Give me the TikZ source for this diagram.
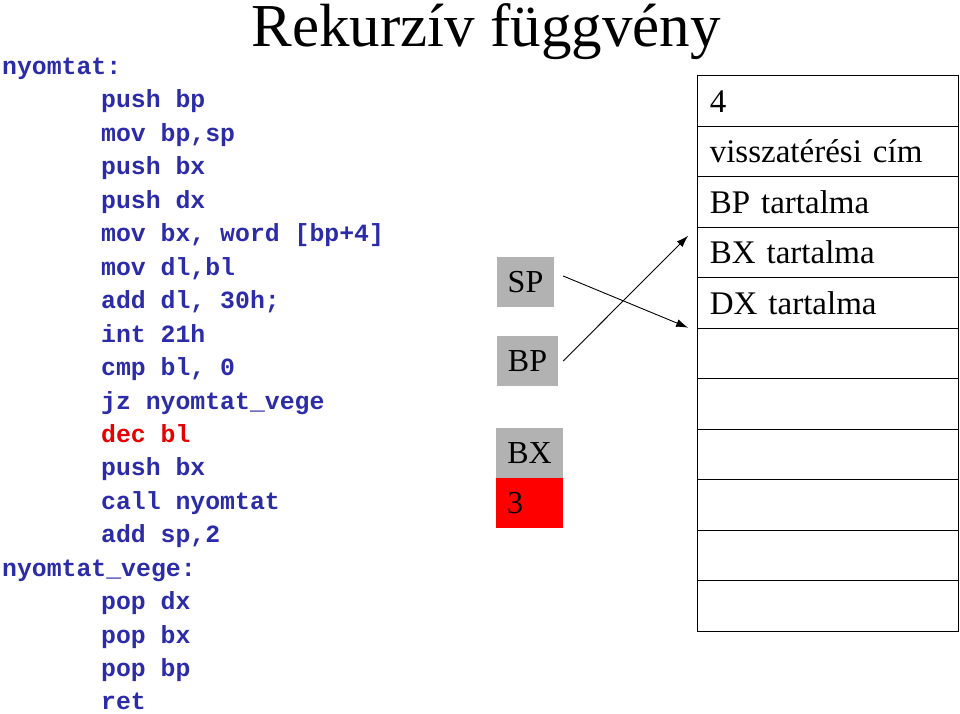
\documentclass[tikz,border=0pt]{standalone}
\usepackage{fontspec}
\setmainfont{Liberation Serif}
\setmonofont{Liberation Mono}
\usetikzlibrary{positioning}
\usetikzlibrary{matrix}
\usetikzlibrary{arrows.meta}

\definecolor{codeblue}{RGB}{44,44,168}
\definecolor{codered}{RGB}{230,0,0}
\definecolor{reggray}{RGB}{178,178,178}

\tikzset{
  code/.style={anchor=base west, inner sep=0pt, text=codeblue,
    font=\fontsize{24.8}{30}\selectfont\ttfamily\bfseries},
  reg/.style={fill=reggray, inner sep=0pt, minimum height=50pt,
    text height=21pt, text depth=0pt, font=\fontsize{32}{36}\selectfont},
  cell/.style={draw, line width=1.2pt, minimum height=50.5pt,
    text width=237pt, align=left, inner xsep=12pt, inner ysep=0pt,
    text height=22pt, text depth=0pt, font=\fontsize{33}{36}\selectfont},
  ptr/.style={-{Latex[length=12pt,width=8pt]}, line width=0.9pt},
}

\begin{document}
\begin{tikzpicture}[x=1pt, y=-1pt]
\useasboundingbox (0,0) rectangle (960,713);

\node[anchor=base, font=\fontsize{61}{70}\selectfont] (title) at (486,46) {Rekurzív függvény};

% code
\node[code] (lab1) at (2,74.5) {nyomtat:};
\node[code] (ins1) at (101,107.95) {push bp};
\node[code] (ins2) at (101,141.4) {mov bp,sp};
\node[code] (ins3) at (101,174.85) {push bx};
\node[code] (ins4) at (101,208.3) {push dx};
\node[code] (ins5) at (101,241.75) {mov bx, word [bp+4]};
\node[code] (ins6) at (101,275.2) {mov dl,bl};
\node[code] (ins7) at (101,308.65) {add dl, 30h;};
\node[code] (ins8) at (101,342.1) {int 21h};
\node[code] (ins9) at (101,375.55) {cmp bl, 0};
\node[code] (ins10) at (101,409) {jz nyomtat\_vege};
\node[code, text=codered] (ins11) at (101,442.45) {dec bl};
\node[code] (ins12) at (101,475.9) {push bx};
\node[code] (ins13) at (101,509.35) {call nyomtat};
\node[code] (ins14) at (101,542.8) {add sp,2};
\node[code] (lab2) at (2,576.25) {nyomtat\_vege:};
\node[code] (ins15) at (101,609.7) {pop dx};
\node[code] (ins16) at (101,643.15) {pop bx};
\node[code] (ins17) at (101,676.6) {pop bp};
\node[code] (ins18) at (101,709.5) {ret};

% registers
\node[reg, minimum width=57pt] (sp) at (525.5,282) {SP};
\node[reg, minimum width=61pt] (bp) at (527.5,361) {BP};
\node[reg, minimum width=67pt] (bx) at (529.5,453) {BX};
\node[reg, fill=red, text width=45pt, inner xsep=11pt, align=left,
  below=0pt of bx] (bxval) {3};

% stack
\matrix (stack) [matrix of nodes, nodes in empty cells, nodes={cell},
  row sep=-1.2pt, inner sep=0pt, anchor=north west] at (697,75)
{
4 \\
visszatérési cím \\
BP tartalma \\
BX tartalma \\
DX tartalma \\
\\
\\
\\
\\
\\
\\
};

\draw[ptr] ([shift={(9,-6)}]sp.east) -- ([xshift=-9pt]stack-6-1.north west);
\draw[ptr] ([xshift=5pt]bp.east) -- ([shift={(-9,9)}]stack-4-1.north west);
\end{tikzpicture}
\end{document}
